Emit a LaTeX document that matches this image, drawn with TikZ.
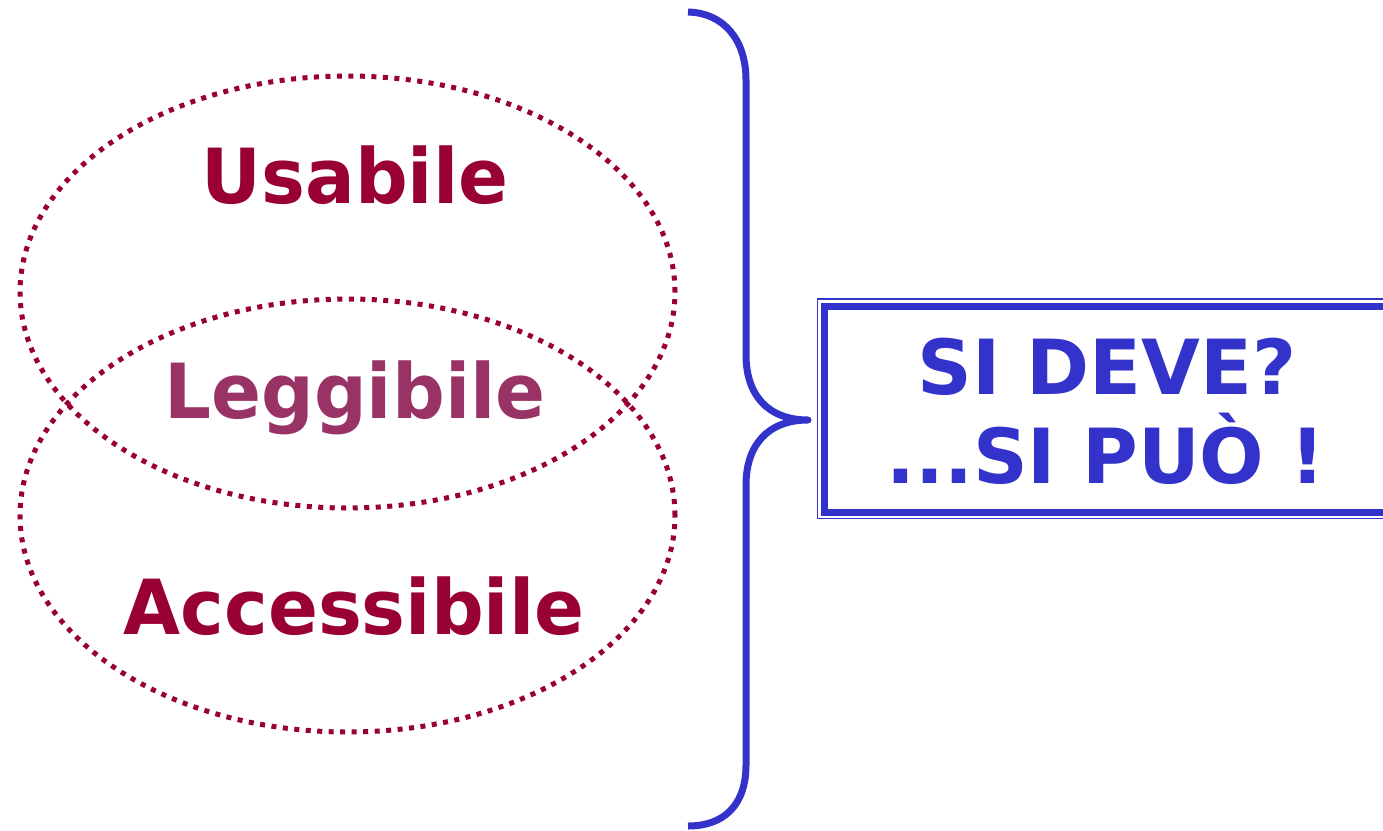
\documentclass[tikz,border=0pt]{standalone}
\usepackage{fontspec}
\setmainfont{DejaVu Sans}
\definecolor{maroon}{HTML}{990033}
\definecolor{rose}{HTML}{993366}
\definecolor{bblue}{HTML}{3333CC}
\tikzset{
  dotring/.style={draw=maroon, line width=5pt, dash pattern=on 5pt off 6.5pt},
  bigword/.style={font=\fontsize{76}{90}\selectfont\bfseries, inner sep=0pt, anchor=base},
  narrow/.style={xscale=0.97, transform shape},
  bracepath/.style={draw=bblue, line width=7pt, line join=round},
}
\begin{document}
\begin{tikzpicture}[x=1pt,y=-1pt]
\useasboundingbox (0,0) rectangle (1383,830);
% ellipses
\draw[dotring] (347.5,292) ellipse [x radius=327.5pt, y radius=216pt];
\draw[dotring] (347.5,515.5) ellipse [x radius=327.5pt, y radius=216.5pt];
% words
\node[bigword, narrow, text=maroon] (usab) at (355,203) {Usabile};
\node[bigword, narrow, text=rose] (legg) at (355,418) {Leggibile};
\node[bigword, narrow, text=maroon] (acc) at (354,634) {Accessibile};
% brace
\draw[bracepath] (688,12) .. controls (724,13) and (746,40) .. (746,80) -- (746,355)
  .. controls (746,395) and (768,420) .. (808,420)
  .. controls (768,420) and (746,445) .. (746,485) -- (746,765)
  .. controls (746,805) and (724,826) .. (688,826);
% box
\draw[bblue, line width=1.5pt] (817.5,299) rectangle (1395,518.5);
\draw[bblue, line width=7pt] (824,306.5) rectangle (1395,512);
\node[bigword, text=bblue] (deve) at (1107,394) {SI DEVE?};
\node[bigword, text=bblue] (puo) at (1106,483) {...SI PUÒ !};
\end{tikzpicture}
\end{document}
